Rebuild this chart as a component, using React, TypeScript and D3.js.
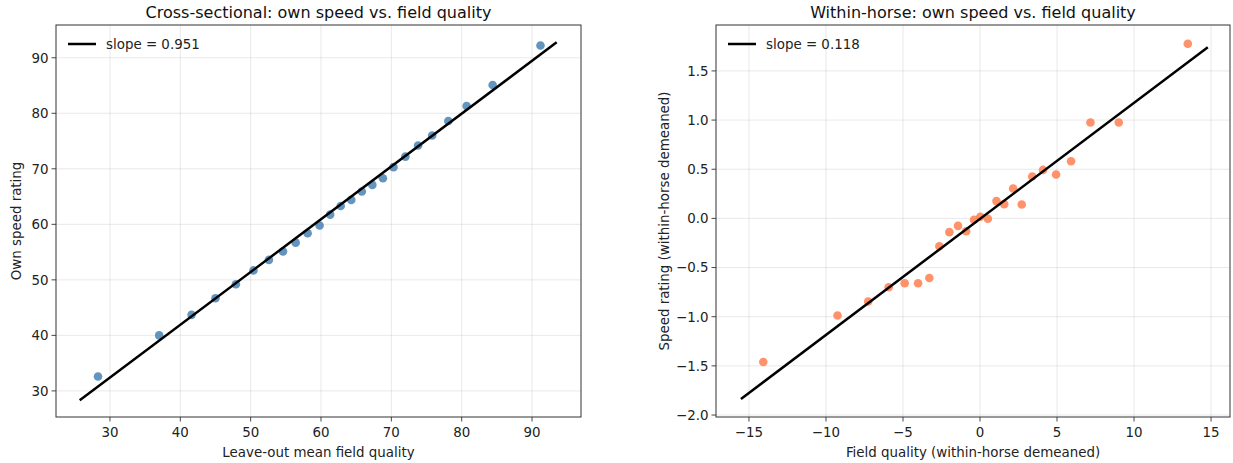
import React from "react";
import * as d3 from "d3";

// Left panel: cross-sectional binned scatter
const crossX = [28.3, 37.0, 41.6, 45.0, 47.9, 50.4, 52.6, 54.6, 56.4, 58.1, 59.8, 61.3, 62.8, 64.3, 65.8, 67.3, 68.8, 70.3, 72.0, 73.8, 75.8, 78.1, 80.7, 84.4, 91.2];
const crossY = [32.6, 40.0, 43.7, 46.7, 49.2, 51.7, 53.6, 55.1, 56.7, 58.4, 59.8, 61.75, 63.3, 64.4, 65.9, 67.1, 68.3, 70.3, 72.2, 74.2, 76.0, 78.6, 81.3, 85.1, 92.2];
const crossSlope = 0.951;
const crossIntercept = 3.86;
const crossLineX = [25.7, 93.5];
const crossXTicks = [30, 40, 50, 60, 70, 80, 90];
const crossYTicks = [30, 40, 50, 60, 70, 80, 90];

// Right panel: within-horse binned scatter
const withinX = [-14.07, -9.25, -7.26, -5.93, -4.89, -4.02, -3.29, -2.64, -1.99, -1.43, -0.90, -0.39, 0.02, 0.51, 1.07, 1.57, 2.15, 2.71, 3.39, 4.09, 4.94, 5.91, 7.17, 9.01, 13.49];
const withinY = [-1.461, -0.987, -0.845, -0.70, -0.66, -0.66, -0.606, -0.283, -0.14, -0.076, -0.13, -0.014, 0.017, -0.003, 0.176, 0.145, 0.304, 0.142, 0.426, 0.493, 0.446, 0.581, 0.976, 0.976, 1.777];
const withinSlope = 0.118;
const withinIntercept = -0.005;
const withinLineX = [-15.52, 14.79];
const withinXTicks = [-15, -10, -5, 0, 5, 10, 15];
const withinYTicks = [-2.0, -1.5, -1.0, -0.5, 0.0, 0.5, 1.0, 1.5];

const FONT = "DejaVu Sans, sans-serif";
const FS = 13.4;
const TITLE_FS = 16;

type PanelProps = {
  left: number; right: number; top: number; bottom: number;
  xDomain: [number, number]; yDomain: [number, number];
  xs: number[]; ys: number[]; color: string;
  slope: number; intercept: number; lineX: number[];
  xTicks: number[]; yTicks: number[];
  yFmt: (v: number) => string; xFmt: (v: number) => string;
  title: string; xLabel: string; yLabel: string; yLabelX: number;
};

function Panel(p: PanelProps) {
  const x = d3.scaleLinear().domain(p.xDomain).range([p.left, p.right]);
  const y = d3.scaleLinear().domain(p.yDomain).range([p.bottom, p.top]);
  const line = d3.line<number>().x((d) => x(d)).y((d) => y(p.intercept + p.slope * d));
  const minus = (s: string) => s.replace("-", "\u2212");
  return (
    <g>
      {p.xTicks.map((t) => (
        <line key={"gx" + t} x1={x(t)} x2={x(t)} y1={p.top} y2={p.bottom} stroke="#b0b0b0" strokeOpacity={0.35} strokeWidth={0.8} />
      ))}
      {p.yTicks.map((t) => (
        <line key={"gy" + t} x1={p.left} x2={p.right} y1={y(t)} y2={y(t)} stroke="#b0b0b0" strokeOpacity={0.35} strokeWidth={0.8} />
      ))}
      {p.xs.map((v, i) => (
        <circle key={"p" + i} cx={x(v)} cy={y(p.ys[i])} r={4.3} fill={p.color} fillOpacity={0.85} />
      ))}
      <path d={line(p.lineX) || ""} fill="none" stroke="#000" strokeWidth={2.5} />
      <rect x={p.left} y={p.top} width={p.right - p.left} height={p.bottom - p.top} fill="none" stroke="#333" strokeWidth={1} />
      {p.xTicks.map((t) => (
        <g key={"tx" + t}>
          <line x1={x(t)} x2={x(t)} y1={p.bottom} y2={p.bottom + 4.5} stroke="#333" strokeWidth={0.9} />
          <text x={x(t)} y={p.bottom + 20} textAnchor="middle" fontSize={FS} fontFamily={FONT} fill="#222">{minus(p.xFmt(t))}</text>
        </g>
      ))}
      {p.yTicks.map((t) => (
        <g key={"ty" + t}>
          <line x1={p.left - 4.5} x2={p.left} y1={y(t)} y2={y(t)} stroke="#333" strokeWidth={0.9} />
          <text x={p.left - 7.5} y={y(t) + 4.9} textAnchor="end" fontSize={FS} fontFamily={FONT} fill="#222">{minus(p.yFmt(t))}</text>
        </g>
      ))}
      <line x1={p.left + 12} x2={p.left + 40} y1={p.top + 19} y2={p.top + 19} stroke="#000" strokeWidth={2.5} />
      <text x={p.left + 50} y={p.top + 23.8} fontSize={FS} fontFamily={FONT} fill="#222">{`slope = ${p.slope.toFixed(3)}`}</text>
      <text x={(p.left + p.right) / 2} y={p.top - 7} textAnchor="middle" fontSize={TITLE_FS} fontFamily={FONT} fill="#111">{p.title}</text>
      <text x={(p.left + p.right) / 2} y={p.bottom + 40} textAnchor="middle" fontSize={FS} fontFamily={FONT} fill="#222">{p.xLabel}</text>
      <text transform={`translate(${p.yLabelX},${(p.top + p.bottom) / 2}) rotate(-90)`} textAnchor="middle" fontSize={FS} fontFamily={FONT} fill="#222">{p.yLabel}</text>
    </g>
  );
}

export default function App() {
  return (
    <svg width={1233} height={463} style={{ position: "absolute", left: 0, top: 0, background: "#fff" }}>
      <Panel
        left={56} right={581} top={25} bottom={417}
        xDomain={[22.33, 96.96]} yDomain={[25.3, 95.9]}
        xs={crossX} ys={crossY} color="steelblue"
        slope={crossSlope} intercept={crossIntercept} lineX={crossLineX}
        xTicks={crossXTicks} yTicks={crossYTicks}
        xFmt={(v) => String(v)} yFmt={(v) => String(v)}
        title="Cross-sectional: own speed vs. field quality"
        xLabel="Leave-out mean field quality" yLabel="Own speed rating" yLabelX={21}
      />
      <Panel
        left={716} right={1230} top={25} bottom={417}
        xDomain={[-17.14, 16.23]} yDomain={[-2.02, 1.967]}
        xs={withinX} ys={withinY} color="coral"
        slope={withinSlope} intercept={withinIntercept} lineX={withinLineX}
        xTicks={withinXTicks} yTicks={withinYTicks}
        xFmt={(v) => String(v)} yFmt={(v) => v.toFixed(1)}
        title="Within-horse: own speed vs. field quality"
        xLabel="Field quality (within-horse demeaned)" yLabel="Speed rating (within-horse demeaned)" yLabelX={669}
      />
    </svg>
  );
}
